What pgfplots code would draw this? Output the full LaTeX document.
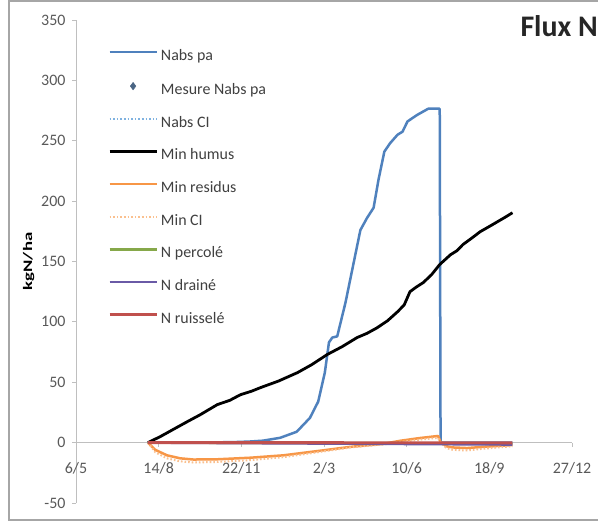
\documentclass[border=0pt]{standalone}
\usepackage{fontspec}
\setmainfont{Carlito}
\usepackage{pgfplots}
\pgfplotsset{compat=1.18}
\usepackage{graphicx}

\definecolor{nabs}{HTML}{4F81BD}
\definecolor{nabsci}{HTML}{7FB2E0}
\definecolor{mesure}{HTML}{4A6584}
\definecolor{residus}{HTML}{F79646}
\definecolor{minci}{HTML}{FAC08F}
\definecolor{percole}{HTML}{86A84A}
\definecolor{draine}{HTML}{6A5AA6}
\definecolor{ruisselle}{HTML}{C0504D}
\definecolor{axisgray}{HTML}{BFBFBF}
\definecolor{framegray}{HTML}{A6A6A6}
\definecolor{ticktext}{HTML}{595959}
\definecolor{legtext}{HTML}{404040}

% days counted from 6/5; values in kgN/ha
\pgfplotstableread{
day val
87 0
150 0.1
190 0.4
210 0.9
226 1.6
247 4
267 9
283 20.5
293 34
301 58
306 83
310 87
316 88
326 116
335 146
344 176
352 186
360 194.5
366 218
373 241
380 248
389 255
395 257.5
401 266
413 271.5
426 276.5
440 276.5
441 0
528 0
}\nabspa

\pgfplotstableread{
day val
87 0
102 5
117 10.7
135 17.5
150 23
171 31.5
186 35
199 39.7
212 42.5
223 45.5
245 51
268 58
285 64.5
304 73
322 79.5
340 87
352 90.5
364 95
377 101
389 108.4
397 114
404 125
412 129
420 132.5
430 139
440 147.5
453 155.6
461 159
468 164
478 169
489 174.7
500 179
510 183
520 187
528 190.4
}\minhumus

\pgfplotstableread{
day val
87 0
96 -6
110 -10.5
126 -13
142 -14
171 -13.8
211 -12.5
251 -10.5
292 -7
332 -3.5
372 -1
392 1.5
416 3.8
438 5.5
441 0.5
448 -3
456 -4
473 -4.5
493 -3.5
528 -2
}\minresidus

\pgfplotstableread{
day val
87 0
96 -8
110 -13
126 -15.5
142 -16.5
171 -16
211 -14.5
251 -12
292 -8
332 -4
372 -1.5
392 0.5
416 2.5
438 4
441 0
448 -4.5
456 -6
473 -6.5
493 -5
528 -3
}\minci

\pgfplotstableread{
day val
87 0
300 -0.3
528 -0.8
}\npercole

\pgfplotstableread{
day val
87 0
300 -0.8
528 -1.6
}\ndraine

\pgfplotstableread{
day val
87 0
300 0
528 -0.2
}\nruisselle

\begin{document}
\begin{tikzpicture}
\useasboundingbox (0bp,0bp) rectangle (598bp,522bp);
\clip (0bp,0bp) rectangle (598bp,522bp);
\fill[white] (0bp,0bp) rectangle (598bp,522bp);
\draw[framegray, line width=1.2bp] (9bp,2bp) rectangle (660bp,521bp);
\begin{axis}[
  at={(76bp,19bp)}, anchor=south west,
  scale only axis, width=496bp, height=483bp,
  xmin=0, xmax=600, ymin=-50, ymax=350,
  axis x line=middle, axis y line=left,
  hide obscured x ticks=false,
  axis line style={draw=axisgray, line width=0.9bp, -},
  xtick={0,100,...,600},
  xticklabels={6/5,14/8,22/11,2/3,10/6,18/9,27/12},
  ytick={-50,0,...,350},
  tick align=outside, major tick length=4bp,
  tick style={draw=axisgray, line width=0.9bp},
  /pgf/number format/assume math mode=true,
  ticklabel style={font=\fontsize{16}{19}\selectfont, text=ticktext},
  xticklabel style={yshift=-12bp},
  yticklabel style={xshift=-3bp},
  ylabel={\scalebox{1.45}[1]{kgN/ha}},
  ylabel style={font=\fontsize{13}{15}\selectfont\bfseries, text=black},
  legend style={
    at={(axis description cs:0.0645,0.939)}, anchor=north west,
    draw=none, fill=none, inner sep=0pt,
    font=\fontsize{16}{19}\selectfont, text=legtext,
    nodes={inner sep=0pt, text height=11bp, text depth=3bp},
    row sep=18.65bp,
    /tikz/every odd column/.append style={column sep=3bp},
  },
  legend cell align=left,
  legend image code/.code={\draw[mark repeat=2,mark phase=2,#1] plot coordinates {(0bp,4.5bp) (23.5bp,4.5bp) (47bp,4.5bp)};},
  every axis plot/.append style={line join=round},
]
\addplot[nabs, line width=2.5bp] table[x=day,y=val] {\nabspa};
\addlegendentry{Nabs pa}
\addlegendimage{only marks, mark=diamond*, mark size=3.8bp, draw=mesure, fill=mesure}
\addlegendentry{Mesure Nabs pa}
\addlegendimage{nabsci, line width=2bp, dash pattern=on 1.6bp off 2bp}
\addlegendentry{Nabs CI}
\addplot[black, line width=2.8bp] table[x=day,y=val] {\minhumus};
\addlegendentry{Min humus}
\addplot[residus, line width=2.5bp] table[x=day,y=val] {\minresidus};
\addlegendentry{Min residus}
\addplot[minci, line width=2bp, dash pattern=on 1.6bp off 2bp] table[x=day,y=val] {\minci};
\addlegendentry{Min CI}
\addplot[percole, line width=2.5bp] table[x=day,y=val] {\npercole};
\addlegendentry{N percolé}
\addplot[draine, line width=2.5bp] table[x=day,y=val] {\ndraine};
\addlegendentry{N drainé}
\addplot[ruisselle, line width=2.8bp] table[x=day,y=val] {\nruisselle};
\addlegendentry{N ruisselé}
\end{axis}
\node[anchor=base west, font=\fontsize{30}{35}\selectfont\bfseries, text=black!85] at (517bp,485bp) {Flux N};
\end{tikzpicture}
\end{document}
